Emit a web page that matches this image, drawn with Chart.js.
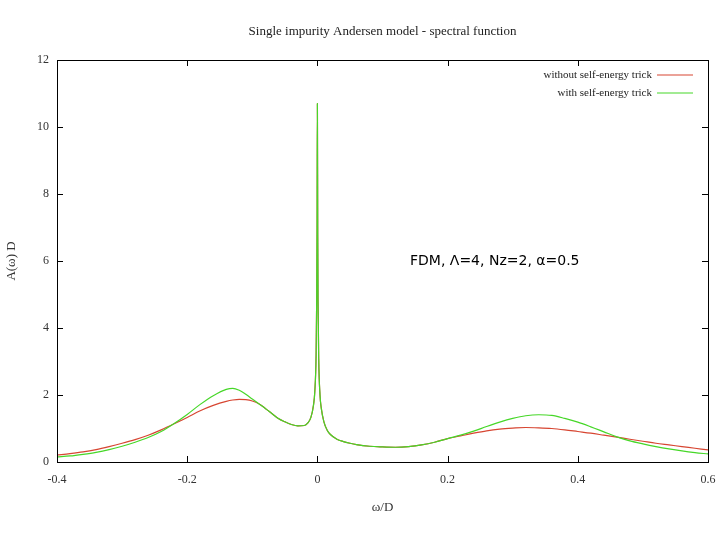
<!DOCTYPE html>
<html>
<head>
<meta charset="utf-8">
<script src="https://cdn.jsdelivr.net/npm/chart.js@4"></script>
<style>
  html, body { margin: 0; padding: 0; background: #fff; }
  #wrap { width: 720px; height: 540px; }
</style>
</head>
<body>
<div id="wrap"><canvas id="myChart"></canvas></div>
<script>
// Spectral function
const omega = [-0.40, -0.38, -0.36, -0.34, -0.32, -0.30, -0.28, -0.26, -0.24, -0.22,
  -0.20, -0.18, -0.16, -0.14, -0.13, -0.12, -0.11, -0.10, -0.09, -0.08,
  -0.07, -0.06, -0.05, -0.04, -0.03, -0.02, -0.015, -0.01, -0.006, -0.004,
  -0.002, -0.001, -0.0005, 0, 0.0005, 0.001, 0.002, 0.004, 0.006, 0.01,
  0.015, 0.02, 0.03, 0.04, 0.05, 0.06, 0.08, 0.10, 0.12, 0.14,
  0.16, 0.18, 0.20, 0.22, 0.24, 0.26, 0.28, 0.30, 0.32, 0.34,
  0.36, 0.38, 0.40, 0.42, 0.44, 0.46, 0.48, 0.50, 0.52, 0.54,
  0.56, 0.58, 0.60];

const withoutTrick = [0.21, 0.25, 0.30, 0.37, 0.46, 0.56, 0.67, 0.80, 0.96, 1.14,
  1.33, 1.53, 1.69, 1.81, 1.85, 1.87, 1.86, 1.82, 1.74, 1.60,
  1.45, 1.30, 1.20, 1.12, 1.08, 1.09, 1.16, 1.33, 1.70, 2.10,
  3.20, 5.00, 7.00, 10.70, 6.80, 4.80, 3.10, 2.00, 1.60, 1.20,
  0.95, 0.82, 0.68, 0.61, 0.56, 0.52, 0.47, 0.45, 0.44, 0.46,
  0.51, 0.59, 0.70, 0.78, 0.86, 0.93, 0.98, 1.01, 1.03, 1.02,
  1.00, 0.96, 0.91, 0.86, 0.80, 0.74, 0.68, 0.62, 0.56, 0.51,
  0.46, 0.41, 0.36];

const withTrick = [0.15, 0.18, 0.23, 0.29, 0.37, 0.47, 0.59, 0.73, 0.91, 1.15,
  1.42, 1.72, 1.98, 2.17, 2.20, 2.14, 2.02, 1.88, 1.74, 1.60,
  1.45, 1.30, 1.20, 1.12, 1.08, 1.09, 1.16, 1.33, 1.70, 2.10,
  3.20, 5.00, 7.00, 10.70, 6.80, 4.80, 3.10, 2.00, 1.60, 1.20,
  0.95, 0.82, 0.68, 0.61, 0.56, 0.52, 0.47, 0.45, 0.44, 0.46,
  0.51, 0.59, 0.70, 0.80, 0.92, 1.06, 1.19, 1.30, 1.38, 1.41,
  1.39, 1.30, 1.19, 1.05, 0.90, 0.75, 0.63, 0.54, 0.46, 0.39,
  0.33, 0.28, 0.24];

const xTicks = [-0.4, -0.2, 0, 0.2, 0.4, 0.6];
const yTicks = [0, 2, 4, 6, 8, 10, 12];
const seriesLabels = ['without self-energy trick', 'with self-energy trick'];

const RED = 'rgb(215, 70, 50)';
const GREEN = 'rgb(70, 215, 40)';
const SERIF = '"Liberation Serif", "DejaVu Serif", serif';

// gnuplot-like frame: box, inward ticks, title, legend and the label
const gnuplotFrame = {
  id: 'gnuplotFrame',
  afterDraw(chart) {
    const { ctx, chartArea: a, scales } = chart;
    ctx.save();
    ctx.strokeStyle = '#000';
    ctx.lineWidth = 1;
    ctx.strokeRect(a.left + 0.5, a.top + 0.5, a.right - a.left, a.bottom - a.top);
    ctx.beginPath();
    xTicks.forEach(v => {
      const x = Math.round(scales.x.getPixelForValue(v)) + 0.5;
      ctx.moveTo(x, a.bottom); ctx.lineTo(x, a.bottom - 6);
      ctx.moveTo(x, a.top); ctx.lineTo(x, a.top + 6);
    });
    yTicks.forEach(v => {
      const y = Math.round(scales.y.getPixelForValue(v)) + 0.5;
      ctx.moveTo(a.left, y); ctx.lineTo(a.left + 6, y);
      ctx.moveTo(a.right, y); ctx.lineTo(a.right - 6, y);
    });
    ctx.stroke();

    // title
    ctx.fillStyle = '#222';
    ctx.font = '13px ' + SERIF;
    ctx.textAlign = 'center';
    ctx.textBaseline = 'middle';
    ctx.fillText('Single impurity Andersen model - spectral function', (a.left + a.right) / 2, 32);

    // legend
    ctx.font = '11px ' + SERIF;
    ctx.textAlign = 'right';
    [RED, GREEN].forEach((c, i) => {
      const y = a.top + 15 + i * 18;
      ctx.fillStyle = '#222';
      ctx.fillText(seriesLabels[i], a.right - 56, y);
      ctx.strokeStyle = c;
      ctx.lineWidth = 1.2;
      ctx.beginPath();
      ctx.moveTo(a.right - 51, y); ctx.lineTo(a.right - 15, y);
      ctx.stroke();
    });

    // annotation
    ctx.fillStyle = '#000';
    ctx.font = '14px "DejaVu Sans", sans-serif';
    ctx.textAlign = 'left';
    ctx.fillText('FDM, \u039B=4, Nz=2, \u03B1=0.5', 410, 261);
    ctx.restore();
  }
};

const ctx = document.getElementById('myChart');

const myChart = new Chart(ctx, {
  type: 'line',
  data: {
    datasets: [{
      label: seriesLabels[0],
      data: omega.map((w, i) => ({ x: w, y: withoutTrick[i] })),
      borderColor: RED,
      borderWidth: 1.2,
      pointRadius: 0,
      cubicInterpolationMode: 'monotone',
      order: 1
    }, {
      label: seriesLabels[1],
      data: omega.map((w, i) => ({ x: w, y: withTrick[i] })),
      borderColor: GREEN,
      borderWidth: 1.2,
      pointRadius: 0,
      cubicInterpolationMode: 'monotone',
      order: 0
    }]
  },
  options: {
    responsive: true,
    maintainAspectRatio: false,
    animation: false,
    layout: { padding: { top: 60, right: 12, left: 0, bottom: 0 } },
    plugins: {
      legend: { display: false },
      tooltip: { enabled: false }
    },
    scales: {
      x: {
        type: 'linear',
        min: -0.4,
        max: 0.6,
        afterBuildTicks: s => { s.ticks = xTicks.map(v => ({ value: v })); },
        afterFit: s => { s.height = 78; s.paddingLeft = 0; s.paddingRight = 0; },
        grid: { display: false, drawTicks: false },
        border: { display: false },
        ticks: {
          padding: 11,
          color: '#333',
          font: { family: SERIF, size: 12 },
          callback: v => String(Math.round(v * 10) / 10)
        },
        title: {
          display: true,
          text: '\u03C9/D',
          color: '#333',
          font: { family: SERIF, size: 13 },
          padding: { top: 0, bottom: 25 }
        }
      },
      y: {
        min: 0,
        max: 12,
        afterBuildTicks: s => { s.ticks = yTicks.map(v => ({ value: v })); },
        afterFit: s => { s.width = 57; s.paddingTop = 0; s.paddingBottom = 0; },
        grid: { display: false, drawTicks: false },
        border: { display: false },
        ticks: {
          padding: 8,
          color: '#333',
          font: { family: SERIF, size: 12 }
        },
        title: {
          display: true,
          text: 'A(\u03C9) D',
          color: '#333',
          font: { family: SERIF, size: 13 },
          padding: { top: 4, bottom: 0 }
        }
      }
    }
  },
  plugins: [gnuplotFrame]
});
</script>
</body>
</html>
